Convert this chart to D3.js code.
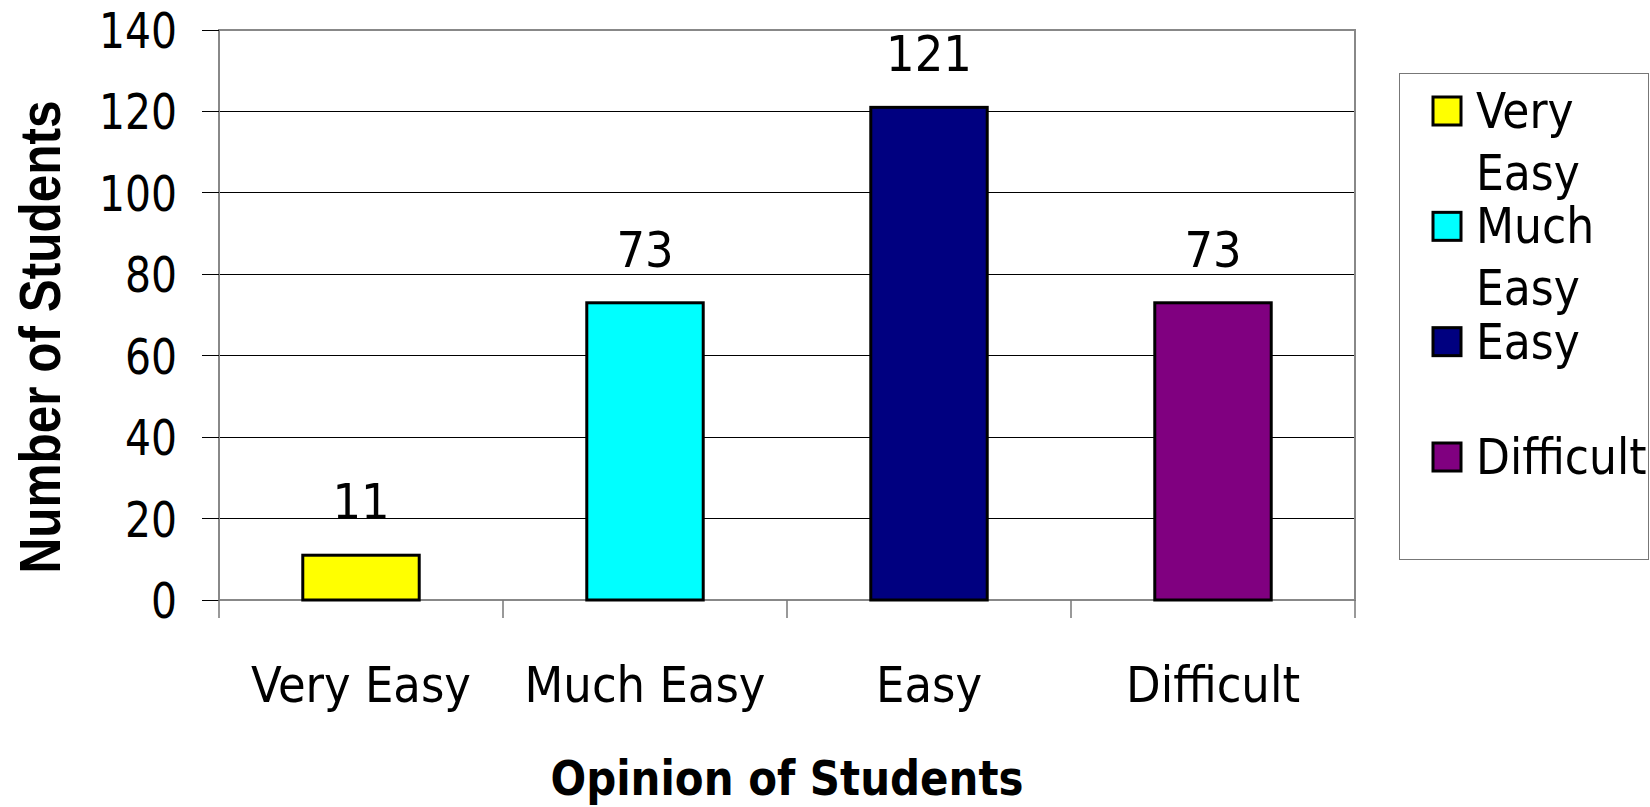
<!DOCTYPE html>
<html>
<head>
<meta charset="utf-8">
<script src="https://cdn.jsdelivr.net/npm/d3@7"></script>
<style>
  body { margin: 0; background: #fff; }
  svg text { font-family: "DejaVu Sans Condensed", "DejaVu Sans", sans-serif; font-stretch: condensed; fill: #000; }
</style>
</head>
<body>
<svg id="chart"></svg>
<script>
// chart data
const categories = ["Very Easy", "Much Easy", "Easy", "Difficult"];
const students = [11, 73, 121, 73];
const barColors = ["#ffff00", "#00ffff", "#000080", "#800080"];
const yTicks = [0, 20, 40, 60, 80, 100, 120, 140];

const width = 1650;
const height = 807;
const plot = { left: 219, top: 30, right: 1355, bottom: 600 }; // plot area box

const svg = d3.select("#chart")
  .attr("width", width)
  .attr("height", height);

const x = d3.scaleBand()
  .domain(categories)
  .range([plot.left, plot.right])
  .paddingInner(0.59)
  .paddingOuter(0.295);

const y = d3.scaleLinear()
  .domain([0, 140])
  .range([plot.bottom, plot.top]);

// horizontal gridlines
svg.append("g")
  .selectAll("line")
  .data(yTicks.filter(d => d > 0 && d < 140))
  .join("line")
  .attr("x1", plot.left)
  .attr("x2", plot.right)
  .attr("y1", d => y(d))
  .attr("y2", d => y(d))
  .attr("stroke", "#000")
  .attr("stroke-width", 1)
  .attr("shape-rendering", "crispEdges");

// plot frame (grey)
svg.append("rect")
  .attr("x", plot.left)
  .attr("y", plot.top)
  .attr("width", plot.right - plot.left)
  .attr("height", plot.bottom - plot.top)
  .attr("fill", "none")
  .attr("stroke", "#888")
  .attr("stroke-width", 2);

// y axis ticks + labels
const yAxis = svg.append("g");
yAxis.selectAll("line")
  .data(yTicks)
  .join("line")
  .attr("x1", plot.left - 17)
  .attr("x2", plot.left)
  .attr("y1", d => y(d))
  .attr("y2", d => y(d))
  .attr("stroke", "#000")
  .attr("stroke-width", 1)
  .attr("shape-rendering", "crispEdges");
yAxis.selectAll("text")
  .data(yTicks)
  .join("text")
  .attr("x", 177)
  .attr("y", d => y(d))
  .attr("dy", "0.36em")
  .attr("text-anchor", "end")
  .attr("font-size", 50)
  .attr("textLength", d => String(d).length * 26)
  .attr("lengthAdjust", "spacingAndGlyphs")
  .text(d => d);

// x axis category ticks (between bands)
const step = x.step();
svg.append("g")
  .selectAll("line")
  .data(d3.range(categories.length + 1))
  .join("line")
  .attr("x1", i => plot.left + i * step)
  .attr("x2", i => plot.left + i * step)
  .attr("y1", plot.bottom)
  .attr("y2", plot.bottom + 18)
  .attr("stroke", "#777")
  .attr("stroke-width", 1.5);

svg.append("g")
  .selectAll("text")
  .data(categories)
  .join("text")
  .attr("x", d => x(d) + x.bandwidth() / 2)
  .attr("y", 702)
  .attr("text-anchor", "middle")
  .attr("font-size", 50)
  .text(d => d);

// bars
svg.append("g")
  .selectAll("rect")
  .data(categories)
  .join("rect")
  .attr("x", d => x(d))
  .attr("y", (d, i) => y(students[i]))
  .attr("width", x.bandwidth())
  .attr("height", (d, i) => y(0) - y(students[i]))
  .attr("fill", (d, i) => barColors[i])
  .attr("stroke", "#000")
  .attr("stroke-width", 3);

// value labels
svg.append("g")
  .selectAll("text")
  .data(categories)
  .join("text")
  .attr("x", d => x(d) + x.bandwidth() / 2)
  .attr("y", (d, i) => y(students[i]) - 36)
  .attr("text-anchor", "middle")
  .attr("font-size", 50)
  .text((d, i) => students[i]);

// axis titles
svg.append("text")
  .attr("x", (plot.left + plot.right) / 2)
  .attr("y", 795)
  .attr("text-anchor", "middle")
  .attr("font-size", 48)
  .attr("font-weight", "bold")
  .attr("textLength", 473)
  .attr("lengthAdjust", "spacingAndGlyphs")
  .text("Opinion of Students");

svg.append("text")
  .attr("transform", "translate(60,337) rotate(-90)")
  .attr("text-anchor", "middle")
  .attr("font-size", 58)
  .attr("font-weight", "bold")
  .style("font-family", "'Liberation Sans', Arial, sans-serif")
  .style("font-stretch", "normal")
  .attr("textLength", 473)
  .attr("lengthAdjust", "spacingAndGlyphs")
  .text("Number of Students");

// legend
const legend = svg.append("g");
legend.append("rect")
  .attr("x", 1399.5)
  .attr("y", 73.5)
  .attr("width", 249)
  .attr("height", 486)
  .attr("fill", "#fff")
  .attr("stroke", "#777")
  .attr("stroke-width", 1);

const legendY = d3.scalePoint()
  .domain(categories)
  .range([111, 457]);

const items = legend.selectAll("g.item")
  .data(categories)
  .join("g")
  .attr("class", "item")
  .attr("transform", d => `translate(0,${legendY(d)})`);

items.append("rect")
  .attr("x", 1433)
  .attr("y", -14)
  .attr("width", 28)
  .attr("height", 28)
  .attr("fill", (d, i) => barColors[i])
  .attr("stroke", "#000")
  .attr("stroke-width", 3);

items.append("text")
  .attr("x", 1476)
  .attr("y", 17)
  .attr("font-size", 49)
  .selectAll("tspan")
  .data(d => d.split(" "))
  .join("tspan")
  .attr("x", 1476)
  .attr("dy", (d, i) => i === 0 ? 0 : 62)
  .text(d => d);
</script>
</body>
</html>
